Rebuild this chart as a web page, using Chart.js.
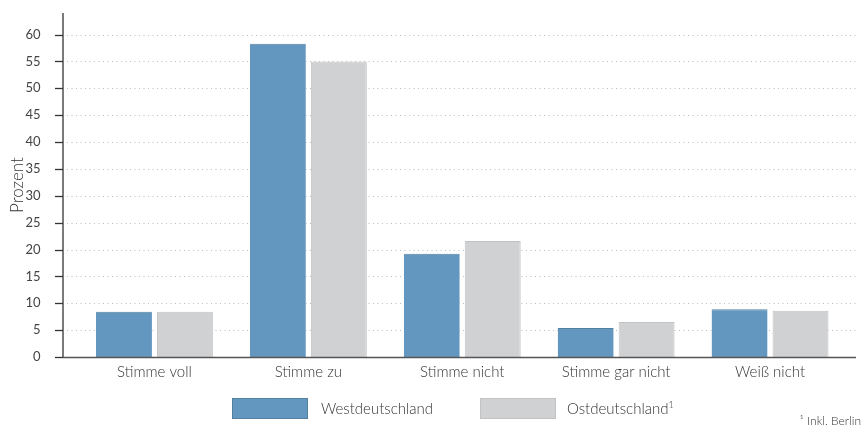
<!DOCTYPE html>
<html>
<head>
<meta charset="utf-8">
<script src="https://cdn.jsdelivr.net/npm/chart.js@4/dist/chart.umd.min.js"></script>
<style>
  html, body { margin: 0; padding: 0; background: #fff; }
  #wrap { position: relative; width: 864px; height: 428px; font-family: Lato, sans-serif; font-weight: 300; color: #333; }
  canvas { display: block; }
  .box { position: absolute; top: 398px; width: 76px; height: 21px; box-sizing: border-box; }
  .lbl { position: absolute; top: 399px; font-size: 15px; white-space: nowrap; }
  #note { position: absolute; right: 3px; top: 413px; font-size: 12px; white-space: nowrap; }
</style>
</head>
<body>
<div id="wrap">
  <canvas id="myChart" width="864" height="428"></canvas>
  <div id="legend"></div>
  <div id="note">¹ Inkl. Berlin</div>
</div>
<script>
let categorias = ["Stimme voll", "Stimme zu", "Stimme nicht", "Stimme gar nicht", "Weiß nicht"];
let westValues = [8.4, 58.3, 19.2, 5.4, 8.9];
let ostValues = [8.4, 55.0, 21.6, 6.5, 8.6];
let yTicks = [0, 5, 10, 15, 20, 25, 30, 35, 40, 45, 50, 55, 60];

let axisX = 63, axisRight = 856;

// ejes y rejilla punteada
const ejes = {
    id: "ejes",
    beforeDatasetsDraw(chart) {
        const ctx = chart.ctx, y = chart.scales.y;
        ctx.save();
        ctx.strokeStyle = "#bcbcbc";
        ctx.lineWidth = 1;
        ctx.setLineDash([1, 3.5]);
        yTicks.forEach(t => {
            if (t === 0) return;
            const py = Math.round(y.getPixelForValue(t)) + 0.5;
            ctx.beginPath(); ctx.moveTo(axisX + 4, py); ctx.lineTo(axisRight, py); ctx.stroke();
        });
        ctx.restore();
    },
    afterDatasetsDraw(chart) {
        const ctx = chart.ctx, y = chart.scales.y;
        ctx.save();
        ctx.strokeStyle = "#333";
        ctx.lineWidth = 1.3;
        ctx.beginPath(); ctx.moveTo(axisX, chart.chartArea.top); ctx.lineTo(axisX, y.getPixelForValue(0)); ctx.stroke();
        yTicks.forEach(t => {
            const py = Math.round(y.getPixelForValue(t)) + 0.5;
            ctx.beginPath(); ctx.moveTo(axisX - 8, py); ctx.lineTo(axisX, py); ctx.stroke();
        });
        const p0 = Math.round(y.getPixelForValue(0)) + 0.5;
        ctx.strokeStyle = "#555";
        ctx.beginPath(); ctx.moveTo(axisX, p0); ctx.lineTo(axisRight, p0); ctx.stroke();
        ctx.restore();
    }
};

let datasets = [{
    label: "Westdeutschland",
    data: westValues,
    backgroundColor: "#6497bf",
    borderColor: "#54809f",
    borderWidth: { top: 1, left: 0, right: 0, bottom: 0 }
}, {
    label: "Ostdeutschland¹",
    data: ostValues,
    backgroundColor: "#d0d1d3",
    borderColor: "#c2c3c5",
    borderWidth: { top: 1, left: 1, right: 1, bottom: 0 }
}];

new Chart("myChart", {
    type: "bar",
    data: { labels: categorias, datasets: datasets },
    options: {
        responsive: false,
        animation: false,
        layout: { padding: { top: 13, right: 17, left: 0, bottom: 0 } },
        datasets: { bar: { categoryPercentage: 0.792, barPercentage: 0.918 } },
        plugins: { legend: { display: false }, tooltip: { enabled: false } },
        scales: {
            x: {
                grid: { display: false },
                border: { display: false },
                ticks: { color: "#333", padding: -2, font: { family: "Lato", size: 15, weight: 300 } },
                afterFit: s => { s.height = 71; s.paddingLeft = 0; s.paddingRight = 0; }
            },
            y: {
                min: 0, max: 64,
                grid: { display: false },
                border: { display: false },
                ticks: { stepSize: 5, includeBounds: false, padding: 29, color: "#444", font: { family: "Lato", size: 13, weight: 400 } },
                title: { display: true, text: "Prozent", color: "#333", padding: { top: 7, bottom: 0 }, font: { family: "Lato", size: 17, weight: 300 } },
                afterFit: s => { s.width = 77.5; s.paddingTop = 0; s.paddingBottom = 0; }
            }
        }
    },
    plugins: [ejes]
});

// leyenda
let lgPos = [{ box: 232, txt: 321 }, { box: 480, txt: 567 }];
let lg = document.getElementById("legend");
datasets.forEach((d, i) => {
    let b = document.createElement("div");
    b.className = "box";
    b.style.left = lgPos[i].box + "px";
    b.style.background = d.backgroundColor;
    b.style.border = "1px solid " + d.borderColor;
    lg.appendChild(b);
    let t = document.createElement("div");
    t.className = "lbl";
    t.style.left = lgPos[i].txt + "px";
    t.innerHTML = d.label.replace("¹", "<sup style='font-size:9px'>1</sup>");
    lg.appendChild(t);
});
</script>
</body>
</html>
